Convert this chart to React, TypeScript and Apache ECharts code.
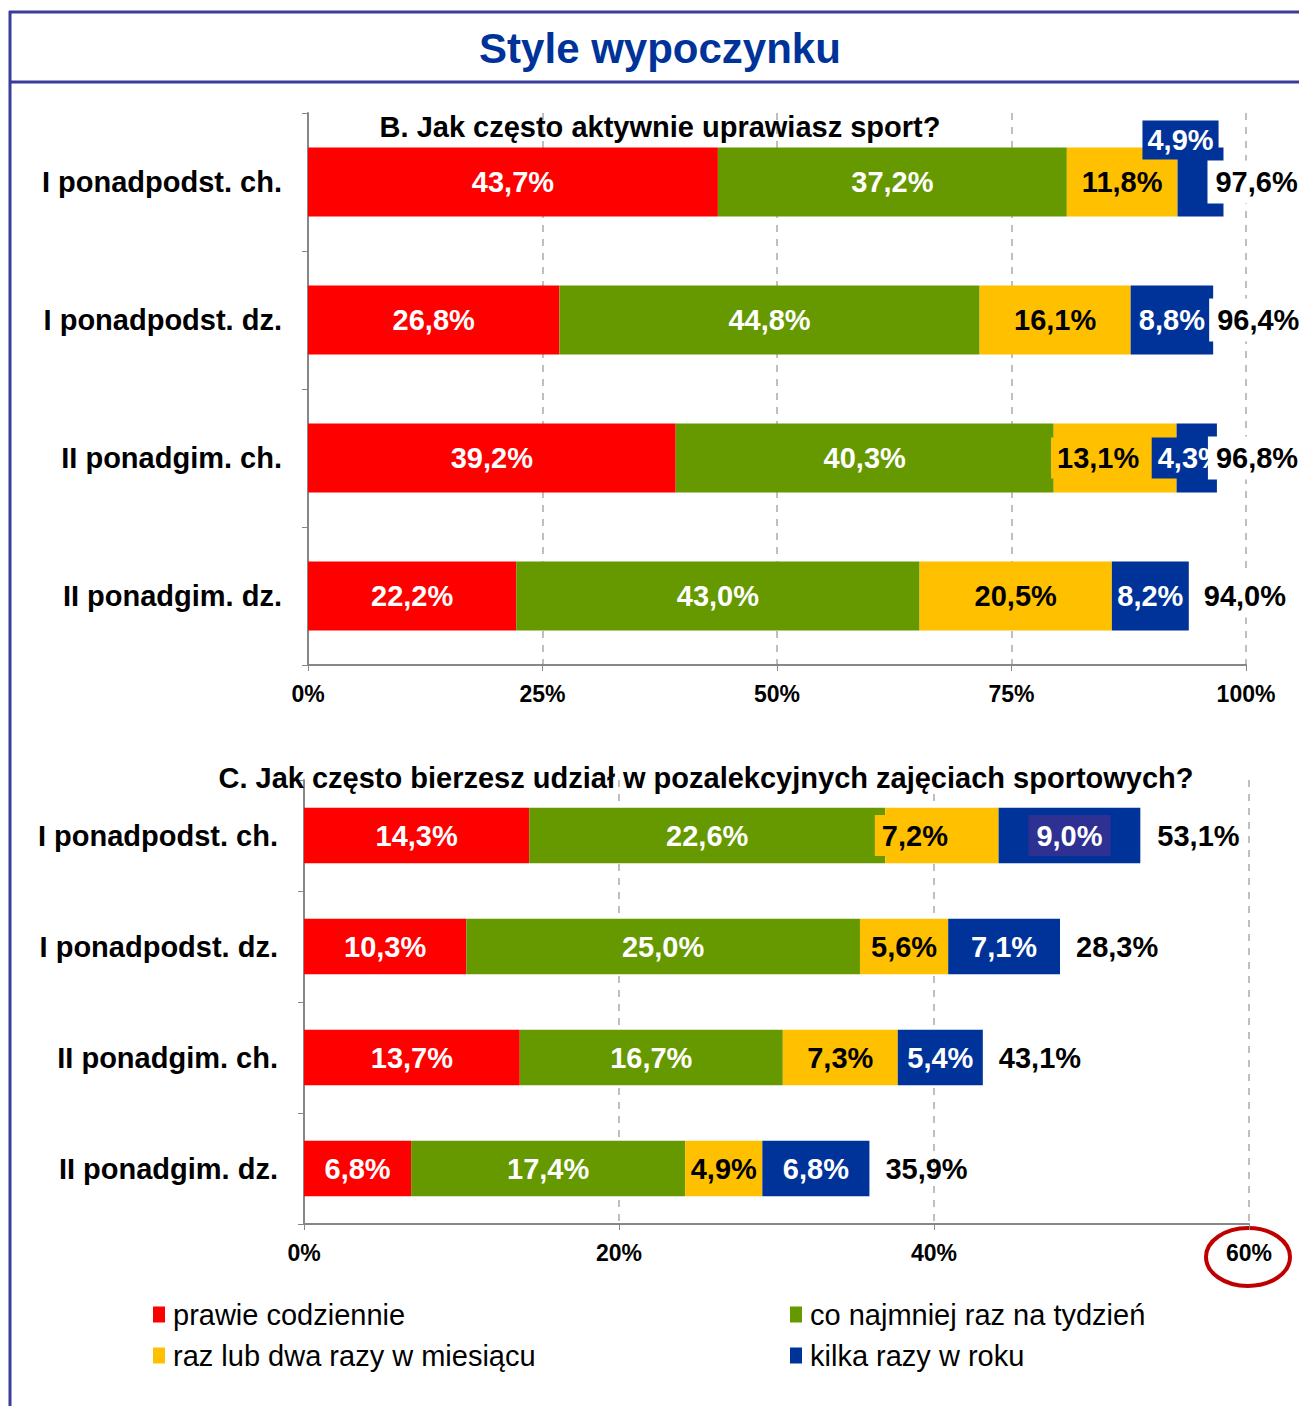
import React, { useEffect, useRef } from 'react';
import * as echarts from 'echarts';

const FONT = '"Liberation Sans", Arial, Helvetica, sans-serif';

const categories = ['I ponadpodst. ch.', 'I ponadpodst. dz.', 'II ponadgim. ch.', 'II ponadgim. dz.'];
const seriesNames = [
  'prawie codziennie',
  'co najmniej raz na tydzień',
  'raz lub dwa razy w miesiącu',
  'kilka razy w roku',
];
const seriesColors = ['#FF0000', '#669900', '#FFC000', '#003399'];
const labelColors = ['#FFFFFF', '#FFFFFF', '#000000', '#FFFFFF'];

// B. Jak często aktywnie uprawiasz sport?
const sportDaily = [43.7, 26.8, 39.2, 22.2];
const sportWeekly = [37.2, 44.8, 40.3, 43.0];
const sportMonthly = [11.8, 16.1, 13.1, 20.5];
const sportYearly = [4.9, 8.8, 4.3, 8.2];
const sportTotals = [97.6, 96.4, 96.8, 94.0];
const sportTicks = [0, 25, 50, 75, 100];

// C. Jak często bierzesz udział w pozalekcyjnych zajęciach sportowych?
const extraDaily = [14.3, 10.3, 13.7, 6.8];
const extraWeekly = [22.6, 25.0, 16.7, 17.4];
const extraMonthly = [7.2, 5.6, 7.3, 4.9];
const extraYearly = [9.0, 7.1, 5.4, 6.8];
const extraTotals = [53.1, 28.3, 43.1, 35.9];
const extraTicks = [0, 20, 40, 60];

const fmt = (v: number) => v.toFixed(1).replace('.', ',') + '%';

const LABEL_SIZE = 29;

// label style tweaks (per series index -> per data index)
const sportLabelTweaks: Record<number, Record<number, any>> = {
  2: { 2: { backgroundColor: '#FFC000', padding: [6, 6], offset: [-17, 0] } },
  3: {
    0: { backgroundColor: '#003399', padding: [5, 5], offset: [-20, -42] },
    2: { backgroundColor: '#003399', padding: [6, 6], offset: [-6, 0] },
    3: { backgroundColor: '#003399', padding: [6, 3] },
  },
};
const extraLabelTweaks: Record<number, Record<number, any>> = {
  2: {
    0: { backgroundColor: '#FFC000', padding: [6, 7], offset: [-27, 0] },
    3: { backgroundColor: '#FFC000', padding: [6, 3] },
  },
  3: { 0: { backgroundColor: '#2E3192', padding: [6, 8] } },
};
const sportTotalDistances = [-16, -4, -9, 7];
const extraTotalDistances = [17, 16, 16, 16];

function buildGridSeries(
  gi: number,
  groups: number[][],
  totals: number[],
  tweaks: Record<number, Record<number, any>>,
  totalDist: number[],
  totalBg: string | undefined
) {
  const out: any[] = groups.map((vals, si) => ({
    name: seriesNames[si],
    type: 'bar',
    stack: 'g' + gi,
    xAxisIndex: gi,
    yAxisIndex: gi,
    barWidth: '50%',
    itemStyle: { color: seriesColors[si] },
    emphasis: { disabled: true },
    label: {
      show: true,
      position: 'inside',
      color: labelColors[si],
      fontSize: LABEL_SIZE,
      fontWeight: 'bold',
      fontFamily: FONT,
      formatter: (p: any) => fmt(Number(p.value)),
    },
    data: vals.map((v, i) => (tweaks[si] && tweaks[si][i] ? { value: v, label: tweaks[si][i] } : v)),
  }));
  out.push({
    name: 'suma' + gi,
    type: 'bar',
    stack: 'g' + gi,
    xAxisIndex: gi,
    yAxisIndex: gi,
    barWidth: '50%',
    itemStyle: { color: 'transparent' },
    emphasis: { disabled: true },
    z: 5,
    label: {
      show: true,
      position: 'right',
      color: '#000000',
      fontSize: LABEL_SIZE,
      fontWeight: 'bold',
      fontFamily: FONT,
      backgroundColor: totalBg,
      padding: totalBg ? [7, 2, 7, 8] : 0,
      formatter: (p: any) => fmt(totals[p.dataIndex]),
    },
    data: totals.map((_, i) => ({ value: 0, label: { distance: totalDist[i] } })),
  });
  return out;
}

function xAxisFor(gi: number, ticks: number[]) {
  return {
    gridIndex: gi,
    type: 'value',
    min: ticks[0],
    max: ticks[ticks.length - 1],
    interval: ticks[1] - ticks[0],
    axisLine: { show: true, lineStyle: { color: '#878787', width: 2 } },
    axisTick: { show: true, length: 6, lineStyle: { color: '#878787', width: 1 } },
    axisLabel: {
      formatter: '{value}%',
      fontSize: 23,
      fontWeight: 'bold',
      color: '#000000',
      fontFamily: FONT,
      margin: 17,
    },
    splitLine: { show: true, lineStyle: { color: '#BFBFBF', width: 2, type: [7, 7] } },
  };
}

function yAxisFor(gi: number) {
  return {
    gridIndex: gi,
    type: 'category',
    data: categories,
    inverse: true,
    axisLine: { show: true, lineStyle: { color: '#878787', width: 2 } },
    axisTick: { show: true, length: 6, lineStyle: { color: '#878787', width: 1 } },
    axisLabel: {
      fontSize: LABEL_SIZE,
      fontWeight: 'bold',
      color: '#000000',
      fontFamily: FONT,
      margin: 26,
    },
    splitLine: { show: false },
  };
}

export default function App() {
  const ref = useRef<HTMLDivElement>(null);

  useEffect(() => {
    if (!ref.current) return;
    const chart = echarts.init(ref.current, undefined, { renderer: 'svg' });
    const frameColor = '#3B3B9C';
    const legendCommon = {
      orient: 'vertical',
      padding: 0,
      itemWidth: 12,
      itemHeight: 16,
      itemGap: 12,
      icon: 'rect',
      selectedMode: false,
      textStyle: { fontSize: 29, lineHeight: 29, color: '#000000', fontFamily: FONT, padding: [0, 0, 0, 3] },
    };
    chart.setOption({
      animation: false,
      backgroundColor: '#FFFFFF',
      grid: [
        { left: 308, right: 53, top: 113, height: 552, containLabel: false },
        { left: 304, right: 50, top: 780, height: 444, containLabel: false },
      ],
      xAxis: [xAxisFor(0, sportTicks), xAxisFor(1, extraTicks)],
      yAxis: [yAxisFor(0), yAxisFor(1)],
      legend: [
        { ...legendCommon, left: 153, top: 1300, data: [seriesNames[0], seriesNames[2]] },
        { ...legendCommon, left: 790, top: 1300, data: [seriesNames[1], seriesNames[3]] },
      ],
      series: [
        ...buildGridSeries(0, [sportDaily, sportWeekly, sportMonthly, sportYearly], sportTotals, sportLabelTweaks, sportTotalDistances, '#FFFFFF'),
        ...buildGridSeries(1, [extraDaily, extraWeekly, extraMonthly, extraYearly], extraTotals, extraLabelTweaks, extraTotalDistances, undefined),
      ],
      graphic: [
        { type: 'line', shape: { x1: 9, y1: 12, x2: 1299, y2: 12 }, style: { stroke: frameColor, lineWidth: 3 } },
        { type: 'line', shape: { x1: 10, y1: 11, x2: 10, y2: 1406 }, style: { stroke: frameColor, lineWidth: 3 } },
        { type: 'line', shape: { x1: 10, y1: 82, x2: 1299, y2: 82 }, style: { stroke: frameColor, lineWidth: 3 } },
        {
          type: 'text',
          x: 660,
          y: 48,
          style: {
            text: 'Style wypoczynku',
            fill: '#003399',
            font: `bold 42px ${FONT}`,
            textAlign: 'center',
            textVerticalAlign: 'middle',
          },
        },
        {
          type: 'text',
          x: 660,
          y: 127,
          z: 10,
          style: {
            text: 'B. Jak często aktywnie uprawiasz sport?',
            fill: '#000000',
            font: `bold 29px ${FONT}`,
            textAlign: 'center',
            textVerticalAlign: 'middle',
          },
        },
        {
          type: 'text',
          x: 706,
          y: 778,
          z: 10,
          style: {
            text: 'C. Jak często bierzesz udział w pozalekcyjnych zajęciach sportowych?',
            fill: '#000000',
            font: `bold 29px ${FONT}`,
            textAlign: 'center',
            textVerticalAlign: 'middle',
          },
        },
        {
          type: 'ellipse',
          shape: { cx: 1248, cy: 1257, rx: 42, ry: 29 },
          style: { fill: 'none', stroke: '#C00000', lineWidth: 4 },
        },
      ],
    });
    return () => chart.dispose();
  }, []);

  return <div ref={ref} style={{ position: 'absolute', left: 0, top: 0, width: 1299, height: 1406 }} />;
}
